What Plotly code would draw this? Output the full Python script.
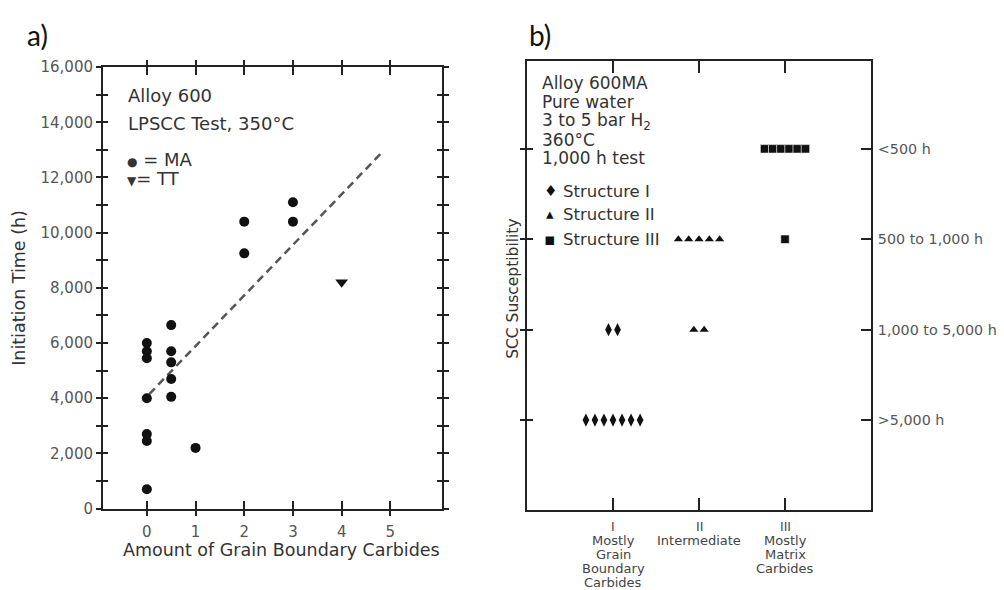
import numpy as np
import plotly.graph_objects as go

W, H = 1004, 590

# ---------------- Panel a data ----------------
ma_carbides = [0, 0, 0, 0, 0, 0, 0, 0.5, 0.5, 0.5, 0.5, 0.5, 1, 2, 2, 3, 3]
ma_initiation = [6000, 5700, 5450, 4000, 2700, 2450, 700,
                 6650, 5700, 5300, 4700, 4050, 2200,
                 10400, 9250, 11100, 10400]
tt_carbides = [4]
tt_initiation = [8200]
trend_carbides = [0.05, 4.85]
trend_initiation = [4150, 12950]
a_xticks = [0, 1, 2, 3, 4, 5]
a_yticks = list(range(0, 16001, 2000))
a_yticklabels = [f"{v:,}" for v in a_yticks]

# ---------------- Panel b data ----------------
susc_levels = [">5,000 h", "1,000 to 5,000 h", "500 to 1,000 h", "<500 h"]
structure_numerals = ["I", "II", "III"]
structure_desc = [["Mostly", "Grain", "Boundary", "Carbides"],
                  ["Intermediate"],
                  ["Mostly", "Matrix", "Carbides"]]
struct_I_counts = [7, 2, 0, 0]
struct_II_counts = [0, 2, 5, 0]
struct_III_counts = [0, 0, 1, 6]


# screen-pixel -> paper coordinate helpers (compensates page offset)
def sx(X):
    return (X - 8) / W


def sy(Y):
    return 1 - (Y - 14.6) / (0.975 * H)


FONT = "DejaVu Sans"
INK = "#222222"
TXT = "#333333"
TICKTXT = "#555555"

fig = go.Figure()

# ---- panel a traces ----
fig.add_trace(go.Scatter(x=trend_carbides, y=trend_initiation, mode="lines",
                         line=dict(color="#555555", width=2.5, dash="8px,5px"),
                         xaxis="x", yaxis="y", showlegend=False, hoverinfo="skip"))
fig.add_trace(go.Scatter(x=ma_carbides, y=ma_initiation, mode="markers",
                         marker=dict(symbol="circle", size=10, color="#111111"),
                         xaxis="x", yaxis="y", showlegend=False))
fig.add_trace(go.Scatter(x=tt_carbides, y=tt_initiation, mode="markers",
                         marker=dict(symbol="triangle-down", size=11, color="#111111"),
                         xaxis="x", yaxis="y", showlegend=False))
fig.add_trace(go.Scatter(x=[], y=[], xaxis="x3", yaxis="y", showlegend=False, hoverinfo="skip"))
fig.add_trace(go.Scatter(x=[], y=[], xaxis="x", yaxis="y3", showlegend=False, hoverinfo="skip"))


# ---- panel b traces ----
def spread(center, n, step):
    return [center + (i - (n - 1) / 2) * step for i in range(n)]


def build(counts, cat_index, step):
    xs, ys = [], []
    for lvl, n in enumerate(counts):
        if n:
            xs += spread(cat_index, n, step)
            ys += [lvl + 1] * n
    return xs, ys


bI_x, bI_y = build(struct_I_counts, 0, 0.105)
bII_x, bII_y = build(struct_II_counts, 1, 0.12)
bIII_x, bIII_y = build(struct_III_counts, 2, 0.095)

fig.add_trace(go.Scatter(x=bI_x, y=bI_y, mode="markers", name="Structure I",
                         marker=dict(symbol="diamond-tall", size=9.5, color="#111111"),
                         xaxis="x2", yaxis="y2", showlegend=False))
fig.add_trace(go.Scatter(x=bII_x, y=bII_y, mode="markers", name="Structure II",
                         marker=dict(symbol="triangle-up", size=8, color="#111111"),
                         xaxis="x2", yaxis="y2", showlegend=False))
fig.add_trace(go.Scatter(x=bIII_x, y=bIII_y, mode="markers", name="Structure III",
                         marker=dict(symbol="square", size=8.5, color="#111111",
                                     line=dict(width=0.6, color="white")),
                         xaxis="x2", yaxis="y2", showlegend=False))
fig.add_trace(go.Scatter(x=[], y=[], xaxis="x2", yaxis="y4", showlegend=False, hoverinfo="skip"))
fig.add_trace(go.Scatter(x=[], y=[], xaxis="x2", yaxis="y5", showlegend=False, hoverinfo="skip"))

a_dom_x = [sx(103), sx(442)]
a_dom_y = [sy(509), sy(65)]
b_dom_x = [sx(527), sx(871)]
b_dom_y = [sy(510), sy(59)]
a_xrange = [-0.9, 6.06]
a_yrange = [0, 16000]
b_xrange = [-1, 3]
b_yrange = [0.01, 4.97]

common = dict(showgrid=False, zeroline=False, linecolor=INK, linewidth=2,
              tickcolor=INK, tickwidth=2)

fig.update_layout(
    width=W, height=H,
    margin=dict(l=0, r=0, t=0, b=0),
    paper_bgcolor="white", plot_bgcolor="white",
    font=dict(family=FONT, color=TXT),
    showlegend=False,
    # panel a
    xaxis=dict(domain=a_dom_x, range=a_xrange, anchor="y", tickvals=a_xticks,
               ticks="outside", ticklen=5, showline=True, mirror="ticks",
               tickfont=dict(family=FONT, size=15, color=TICKTXT),
               ticklabelstandoff=3, **common),
    xaxis3=dict(domain=a_dom_x, range=a_xrange, anchor="y", overlaying="x", side="bottom",
                tickvals=a_xticks, ticks="inside", ticklen=8, showline=True,
                mirror="ticks", showticklabels=False, **common),
    yaxis=dict(domain=a_dom_y, range=a_yrange, anchor="x", tickvals=a_yticks,
               ticktext=a_yticklabels, ticks="outside", ticklen=5, showline=True,
               mirror="ticks", tickfont=dict(family=FONT, size=15, color=TICKTXT),
               minor=dict(dtick=1000, tick0=0, ticks="outside", ticklen=5,
                          tickwidth=2, tickcolor=INK, showgrid=False),
               **common),
    yaxis3=dict(domain=a_dom_y, range=a_yrange, anchor="x", overlaying="y", side="left",
                tickvals=a_yticks, ticks="inside", ticklen=5, showline=True,
                mirror="ticks", showticklabels=False,
                minor=dict(dtick=1000, tick0=0, ticks="inside", ticklen=5,
                           tickwidth=2, tickcolor=INK, showgrid=False),
                **common),
    # panel b
    xaxis2=dict(domain=b_dom_x, range=b_xrange, anchor="y2", tickvals=[0, 1, 2],
                ticks="inside", ticklen=12, showline=True, mirror="ticks",
                showticklabels=False, **common),
    yaxis2=dict(domain=b_dom_y, range=b_yrange, anchor="x2", tickvals=[1, 2, 3, 4],
                ticks="outside", ticklen=5, showline=True, mirror=True,
                showticklabels=False, **common),
    yaxis5=dict(domain=b_dom_y, range=b_yrange, anchor="x2", overlaying="y2", side="left",
                tickvals=[1, 2, 3, 4], ticks="inside", ticklen=6, showline=False,
                showticklabels=False, **common),
    yaxis4=dict(domain=b_dom_y, range=b_yrange, anchor="x2", overlaying="y2", side="right",
                tickvals=[1, 2, 3, 4], ticktext=susc_levels, ticks="inside", ticklen=10,
                showline=True, tickfont=dict(family=FONT, size=14.3, color=TICKTXT),
                ticklabelstandoff=2, **common),
)

ann = []


def text(x, y, s, size, color=TXT, xanchor="left", angle=0, family=FONT,
         xref="paper", yanchor="middle", ypaper=None):
    ann.append(dict(x=(sx(x) if xref == "paper" else x),
                    y=(sy(y) if ypaper is None else ypaper), xref=xref, yref="paper",
                    text=s, showarrow=False, xanchor=xanchor, yanchor=yanchor,
                    textangle=angle, borderpad=0,
                    font=dict(family=family, size=size, color=color)))


# panel labels
text(26, 0, "a)", 28, color="#111111", family="Lato", yanchor="top", ypaper=1.0)
text(528, 0, "b)", 28, color="#111111", family="Lato", yanchor="top", ypaper=1.0)

# panel a text
text(127, 94, "Alloy 600", 18)
text(127, 122, "LPSCC Test, 350°C", 18)
text(126, 158, "<span style='font-size:12px'>●</span> = MA", 18)
text(126, 177, "<span style='font-size:12px'>▼</span>= TT", 18)
text(281, 551, "Amount of Grain Boundary Carbides", 17.5, xanchor="center")
text(19, 287, "Initiation Time (h)", 17.5, xanchor="center", angle=-90)

# panel b text
text(541, 81, "Alloy 600MA", 17)
text(541, 100, "Pure water", 17)
text(541, 120, "3 to 5 bar H<sub>2</sub>", 17)
text(541, 138, "360°C", 17)
text(541, 156, "1,000 h test", 17)
text(550, 190, "♦", 15, color="#111111", xanchor="center")
text(550, 213, "▴", 15, color="#111111", xanchor="center")
text(550, 238, "▪", 17, color="#111111", xanchor="center")
text(562, 190, "Structure I", 16.5)
text(562, 213, "Structure II", 16.5)
text(562, 238, "Structure III", 16.5)
text(513, 288, "SCC Susceptibility", 15.5, xanchor="center", angle=-90)

# panel b category labels
for i, (num, desc) in enumerate(zip(structure_numerals, structure_desc)):
    text(i, 527, num, 12.5, color="#444444", xanchor="center", xref="x2")
    for j, line in enumerate(desc):
        text(i, 541 + 14 * j, line, 13, color="#444444", xanchor="center", xref="x2")

fig.update_layout(annotations=ann)

fig.write_html("out.html")
